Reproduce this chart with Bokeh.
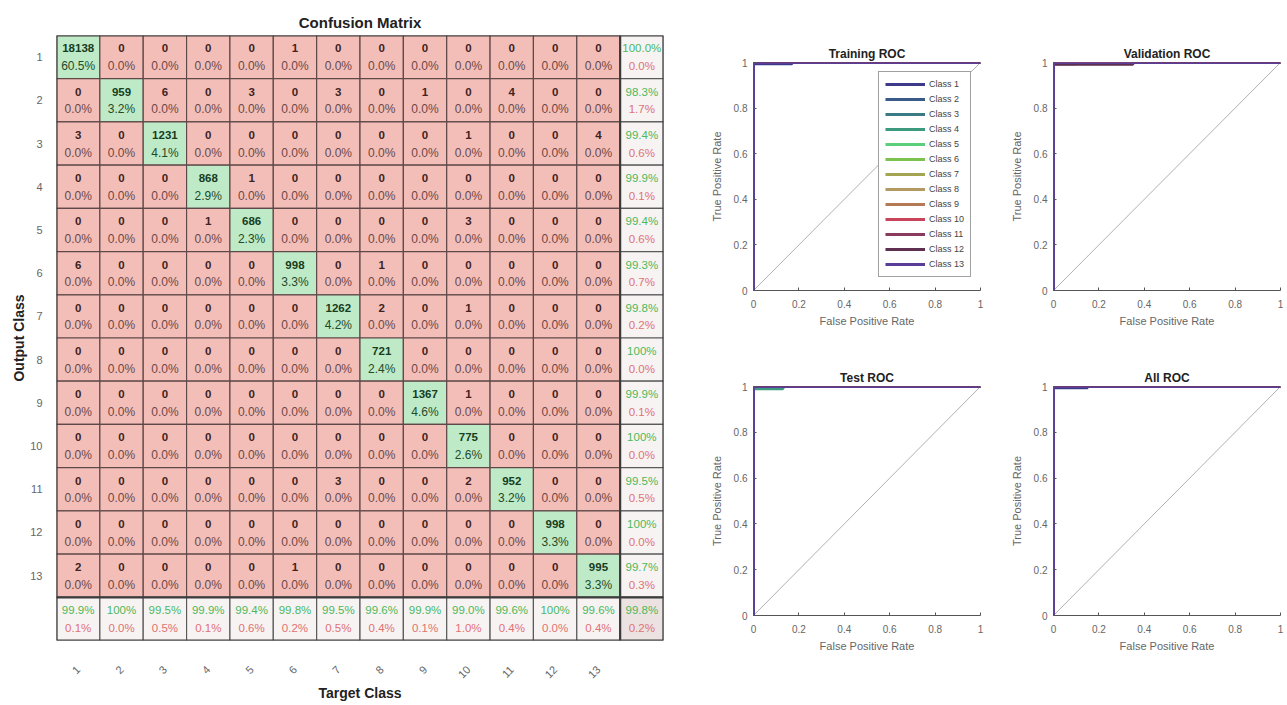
from bokeh.plotting import figure
from bokeh.models import (ColumnDataSource, Range1d, FixedTicker, CustomJSTickFormatter,
                          Legend, LegendItem)
from bokeh.layouts import row, column
from bokeh.embed import file_html
from bokeh.resources import INLINE
from bokeh.core.properties import value

FONT = value("Liberation Sans")

# ---------------- data ----------------
classes = [str(i) for i in range(1, 14)]

counts = [
    [18138, 0, 0, 0, 0, 1, 0, 0, 0, 0, 0, 0, 0],
    [0, 959, 6, 0, 3, 0, 3, 0, 1, 0, 4, 0, 0],
    [3, 0, 1231, 0, 0, 0, 0, 0, 0, 1, 0, 0, 4],
    [0, 0, 0, 868, 1, 0, 0, 0, 0, 0, 0, 0, 0],
    [0, 0, 0, 1, 686, 0, 0, 0, 0, 3, 0, 0, 0],
    [6, 0, 0, 0, 0, 998, 0, 1, 0, 0, 0, 0, 0],
    [0, 0, 0, 0, 0, 0, 1262, 2, 0, 1, 0, 0, 0],
    [0, 0, 0, 0, 0, 0, 0, 721, 0, 0, 0, 0, 0],
    [0, 0, 0, 0, 0, 0, 0, 0, 1367, 1, 0, 0, 0],
    [0, 0, 0, 0, 0, 0, 0, 0, 0, 775, 0, 0, 0],
    [0, 0, 0, 0, 0, 0, 3, 0, 0, 2, 952, 0, 0],
    [0, 0, 0, 0, 0, 0, 0, 0, 0, 0, 0, 998, 0],
    [2, 0, 0, 0, 0, 1, 0, 0, 0, 0, 0, 0, 995],
]

class_colors = ["#3d3a8c", "#3a5a8a", "#3a7a85", "#3c9a7e", "#5ccf7a", "#7cc24f",
                "#a3a552", "#b29a62", "#b57a55", "#c9445a", "#8a3a5c", "#5e2f4f", "#5a3d96"]

roc_titles = ["Training ROC", "Validation ROC", "Test ROC", "All ROC"]
# per class: TPR reached at FPR = 0, and FPR at which TPR reaches 1
roc_tpr0 = [
    [0.995, 1.0, 1.0, 1.0, 1.0, 1.0, 1.0, 1.0, 1.0, 1.0, 1.0, 1.0, 1.0],
    [0.995, 1.0, 1.0, 1.0, 1.0, 1.0, 1.0, 1.0, 1.0, 1.0, 1.0, 0.992, 1.0],
    [1.0, 1.0, 1.0, 0.99, 1.0, 1.0, 1.0, 1.0, 1.0, 1.0, 1.0, 1.0, 1.0],
    [0.995, 1.0, 1.0, 1.0, 1.0, 1.0, 1.0, 1.0, 1.0, 1.0, 1.0, 1.0, 1.0],
]
roc_fpr1 = [
    [0.17, 0.0, 0.0, 0.0, 0.0, 0.0, 0.0, 0.0, 0.0, 0.0, 0.0, 0.0, 0.0],
    [0.10, 0.0, 0.0, 0.0, 0.0, 0.0, 0.0, 0.0, 0.0, 0.0, 0.0, 0.35, 0.0],
    [0.0, 0.0, 0.0, 0.13, 0.0, 0.0, 0.0, 0.0, 0.0, 0.0, 0.0, 0.0, 0.0],
    [0.15, 0.0, 0.0, 0.0, 0.0, 0.0, 0.0, 0.0, 0.0, 0.0, 0.0, 0.0, 0.0],
]
roc_ticks = [0, 0.2, 0.4, 0.6, 0.8, 1]

# ---------------- confusion matrix ----------------
n = len(classes)
total = sum(sum(r) for r in counts)


def pct(v):
    return "100%" if abs(v - 100.0) < 1e-12 else "%.1f%%" % v


PINK, GREEN, SUMM, CORNER = "#f4beb8", "#bfeac7", "#f7f3f3", "#ece2e2"

cx, cy, fill = [], [], []
top_t, bot_t, top_c, bot_c = [], [], [], []
sx, sy, s_top, s_bot = [], [], [], []

for i in range(n):
    for j in range(n):
        c = counts[i][j]
        cx.append(j + 1)
        cy.append(i + 1)
        diag = i == j
        fill.append(GREEN if diag else PINK)
        top_t.append(str(c))
        bot_t.append(pct(100.0 * c / total))
        top_c.append("#163d1e" if diag else "#3d2323")
        bot_c.append("#1f4a27" if diag else "#6a4848")

for i in range(n):
    rs = sum(counts[i])
    acc = 100.0 * counts[i][i] / rs
    sx.append(n + 1); sy.append(i + 1)
    s_top.append(pct(acc)); s_bot.append(pct(100.0 - acc))
for j in range(n):
    cs = sum(counts[i][j] for i in range(n))
    acc = 100.0 * counts[j][j] / cs
    sx.append(j + 1); sy.append(n + 1)
    s_top.append(pct(acc)); s_bot.append(pct(100.0 - acc))
acc = 100.0 * sum(counts[k][k] for k in range(n)) / total
sx.append(n + 1); sy.append(n + 1)
s_top.append(pct(acc)); s_bot.append(pct(100.0 - acc))
s_fill = [SUMM] * (2 * n) + [CORNER]

cells = ColumnDataSource(dict(x=cx, y=cy, fill=fill, tt=top_t, bt=bot_t, tc=top_c, bc=bot_c,
                              yt=[v - 0.2 for v in cy], yb=[v + 0.21 for v in cy]))
summ = ColumnDataSource(dict(x=sx, y=sy, fill=s_fill, tt=s_top, bt=s_bot,
                             yt=[v - 0.2 for v in sy], yb=[v + 0.21 for v in sy]))

cm = figure(width=690, height=703, output_backend="svg", toolbar_location=None,
            x_range=Range1d(0.5, n + 1.5), y_range=Range1d(n + 1.5, 0.5),
            min_border_left=56, min_border_right=27, min_border_top=35, min_border_bottom=62,
            title="Confusion Matrix")
cm.title.align = "center"
cm.title.text_font = "Liberation Sans"
cm.title.text_font_size = "15px"
cm.title.text_font_style = "bold"
cm.title.text_color = "#222222"
cm.title.standoff = 10
cm.outline_line_color = None
cm.grid.visible = False

cm.rect(x="x", y="y", width=1, height=1, source=cells, fill_color="fill",
        line_color="#5e4848", line_width=1.2)
cm.rect(x="x", y="y", width=1, height=1, source=summ, fill_color="fill",
        line_color="#5a5a5a", line_width=1.2)

b = n + 0.5
e = n + 1.5
cm.segment(x0=[0.5, b, 0.5, 0.5, 0.5, e], y0=[b, 0.5, 0.5, e, 0.5, 0.5],
           x1=[e, b, e, e, 0.5, e], y1=[b, e, 0.5, e, e, e],
           line_color="#3c3c3c", line_width=2.2)

cm.text(x="x", y="yt", text="tt", source=cells, text_color="tc", text_font=FONT,
        text_font_size="11.5px", text_font_style="bold", text_align="center",
        text_baseline="middle")
cm.text(x="x", y="yb", text="bt", source=cells, text_color="bc", text_font=FONT,
        text_font_size="12px", text_align="center", text_baseline="middle")
cm.text(x="x", y="yt", text="tt", source=summ, text_color="#4cb85c", text_font=FONT,
        text_font_size="11.5px", text_align="center", text_baseline="middle")
cm.text(x="x", y="yb", text="bt", source=summ, text_color="#e07272", text_font=FONT,
        text_font_size="11.5px", text_align="center", text_baseline="middle")

for ax in (cm.xaxis, cm.yaxis):
    ax.ticker = FixedTicker(ticks=list(range(1, n + 1)))
    ax.axis_line_color = None
    ax.major_tick_line_color = None
    ax.major_tick_out = 0
    ax.major_tick_in = 0
    ax.minor_tick_line_color = None
    ax.major_label_text_font = "Liberation Sans"
    ax.major_label_text_font_size = "11px"
    ax.major_label_text_color = "#666666"
    ax.axis_label_text_font = "Liberation Sans"
    ax.axis_label_text_font_size = "14px"
    ax.axis_label_text_font_style = "bold"
    ax.axis_label_text_color = "#222222"
cm.xaxis.axis_label = "Target Class"
cm.yaxis.axis_label = "Output Class"
cm.xaxis.major_label_orientation = 0.8
cm.xaxis.major_label_standoff = 27
cm.xaxis.axis_label_standoff = 0
cm.yaxis.major_label_standoff = 14
cm.yaxis.axis_label_standoff = 0


# ---------------- ROC panels ----------------
def roc_fig(k, width, height, left, right, top, bottom, legend=False):
    p = figure(width=width, height=height, output_backend="svg", toolbar_location=None,
               x_range=Range1d(0, 1), y_range=Range1d(0, 1),
               min_border_left=left, min_border_right=right,
               min_border_top=top, min_border_bottom=bottom, title=roc_titles[k])
    p.title.align = "center"
    p.title.text_font = "Liberation Sans"
    p.title.text_font_size = "12px"
    p.title.text_font_style = "bold"
    p.title.text_color = "#222222"
    p.title.standoff = 4
    p.outline_line_color = None
    p.grid.visible = False
    p.line(x=roc_ticks[:1] + roc_ticks[-1:], y=roc_ticks[:1] + roc_ticks[-1:],
           line_color="#b0b0b0", line_width=1)
    items = []
    for c in range(n):
        t0 = roc_tpr0[k][c]
        f1 = roc_fpr1[k][c]
        r = p.line(x=[0, 0, f1, f1, 1], y=[0, t0, t0, 1, 1],
                   line_color=class_colors[c], line_width=3)
        items.append(LegendItem(label="Class " + classes[c], renderers=[r]))
    if legend:
        lg = Legend(items=items, location="top_right")
        lg.label_text_font = "Liberation Sans"
        lg.label_text_font_size = "9px"
        lg.label_text_color = "#444444"
        lg.glyph_width = 40
        lg.glyph_height = 12
        lg.label_height = 12
        lg.spacing = 3
        lg.padding = 6
        lg.margin = 9
        lg.label_standoff = 4
        lg.border_line_color = "#444444"
        lg.border_line_width = 1
        lg.background_fill_alpha = 1.0
        p.add_layout(lg, "center")
    for ax in (p.xaxis, p.yaxis):
        ax.ticker = FixedTicker(ticks=roc_ticks)
        ax.formatter = CustomJSTickFormatter(code="return tick.toString();")
        ax.axis_line_color = "#555555"
        ax.major_tick_line_color = "#555555"
        ax.major_tick_in = 3
        ax.major_tick_out = 0
        ax.minor_tick_line_color = None
        ax.major_label_text_font = "Liberation Sans"
        ax.major_label_text_font_size = "10px"
        ax.major_label_text_color = "#666666"
        ax.axis_label_text_font = "Liberation Sans"
        ax.axis_label_text_font_size = "11px"
        ax.axis_label_text_font_style = "normal"
        ax.axis_label_text_color = "#666666"
    p.xaxis.major_label_standoff = 9
    p.xaxis.axis_label_standoff = 4
    p.yaxis.major_label_standoff = 6
    p.yaxis.axis_label_standoff = 8
    p.xaxis.axis_label = "False Positive Rate"
    p.yaxis.axis_label = "True Positive Rate"
    p.yaxis.major_label_orientation = "horizontal"
    return p


r1 = roc_fig(0, 300, 340, 63, 10, 62, 50, legend=True)
r2 = roc_fig(1, 295, 340, 63, 5, 62, 50)
r3 = roc_fig(2, 300, 363, 63, 10, 46, 88)
r4 = roc_fig(3, 295, 363, 63, 5, 46, 88)

layout = row(cm, column(row(r1, r2), row(r3, r4)))
open("out.html", "w").write(file_html(layout, INLINE))
